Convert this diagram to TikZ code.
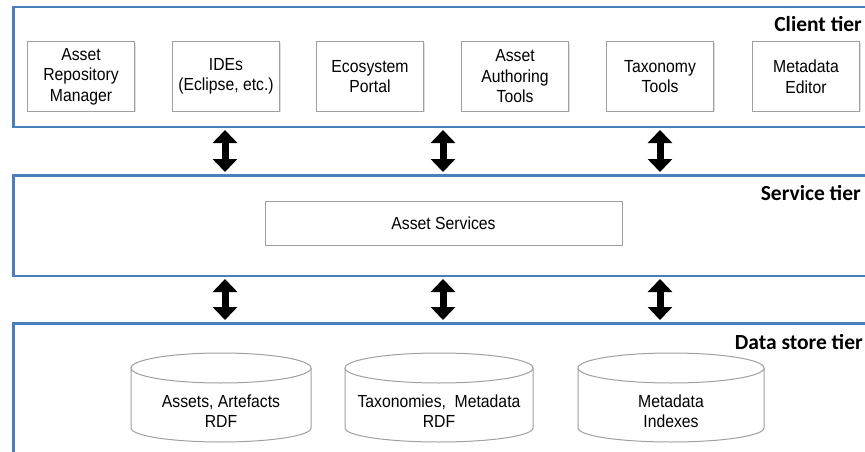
\documentclass[tikz,border=0pt]{standalone}
\usepackage{fontspec}
\setmainfont{Liberation Sans}
\newfontfamily\boxfont[FakeStretch=0.9]{Liberation Sans}
\newfontfamily\tierfont{Carlito}
\usetikzlibrary{arrows.meta,shadows}
\definecolor{tierblue}{RGB}{74,126,187}
\definecolor{boxgray}{RGB}{160,160,160}
\tikzset{
  tier/.style={draw=tierblue, line width=2.5pt, fill=white, rectangle, anchor=north west, inner sep=0pt},
  comp/.style={draw=boxgray, line width=1pt, fill=white, rectangle, minimum width=107pt, minimum height=69pt,
    align=center, inner sep=0pt, font=\boxfont\fontsize{17.5}{20.5}\selectfont,
    drop shadow={shadow xshift=1pt, shadow yshift=-1.2pt, opacity=0.25}},
  svc/.style={comp, minimum width=357pt, minimum height=44pt},
  tierlabel/.style={font=\tierfont\bfseries\fontsize{21.5}{24}\selectfont, anchor=east, inner sep=0pt},
  link/.style={line width=7pt, {Triangle[width=24pt,length=13pt]}-{Triangle[width=24pt,length=13pt]}},
  cylline/.style={draw=boxgray, line width=1pt, fill=white},
  cyltext/.style={align=center, inner sep=0pt, font=\boxfont\fontsize{17.5}{20.5}\selectfont}
}
\begin{document}
\begin{tikzpicture}[x=1pt,y=-1pt]
\clip (0,0) rectangle (865,452);
\fill[white] (0,0) rectangle (865,452);
% tiers
\node[tier, minimum width=868pt, minimum height=119.5pt] (client) at (12,6) {};
\node[tier, minimum width=868pt, minimum height=100.5pt] (service) at (12,174) {};
\node[tier, minimum width=868pt, minimum height=150pt] (data) at (12,322) {};
\node[tierlabel] (clientlbl) at (862,24) {Client tier};
\node[tierlabel] (servicelbl) at (861,193) {Service tier};
\node[tierlabel] (datalbl) at (863,342) {Data store tier};
% client components
\node[comp] (arm) at (81,76.5) {Asset\\Repository\\Manager};
\node[comp] (ide) at (226,76.5) {IDEs\\(Eclipse, etc.)};
\node[comp] (eco) at (370,76.5) {Ecosystem\\Portal};
\node[comp] (aat) at (515,76.5) {Asset\\Authoring\\Tools};
\node[comp] (tax) at (660,76.5) {Taxonomy\\Tools};
\node[comp] (mde) at (806,76.5) {Metadata\\Editor};
% service
\node[svc] (as) at (443.5,223) {Asset Services};
% arrows
\coordinate (c1) at (225,0);
\coordinate (c2) at (443,0);
\coordinate (c3) at (660,0);
\foreach \c in {c1,c2,c3}{
  \draw[link] ([yshift=-2pt]client.south -| \c) -- ([yshift=2pt]service.north -| \c);
  \draw[link] ([yshift=-2pt]service.south -| \c) -- ([yshift=2pt]data.north -| \c);
}
% cylinders
\foreach \cx/\rx in {221/90, 439/94, 671/93}{
  \draw[cylline] (\cx-\rx,368) -- (\cx-\rx,428) arc[start angle=180, end angle=360, x radius=\rx pt, y radius=14pt] -- (\cx+\rx,368);
  \draw[cylline] (\cx,368) ellipse [x radius=\rx pt, y radius=15pt];
}
\node[cyltext] (db1) at (221,411) {Assets, Artefacts\\RDF};
\node[cyltext] (db2) at (439,411) {Taxonomies,\ \ Metadata\\RDF};
\node[cyltext] (db3) at (671,411) {Metadata\\Indexes};
\end{tikzpicture}
\end{document}
